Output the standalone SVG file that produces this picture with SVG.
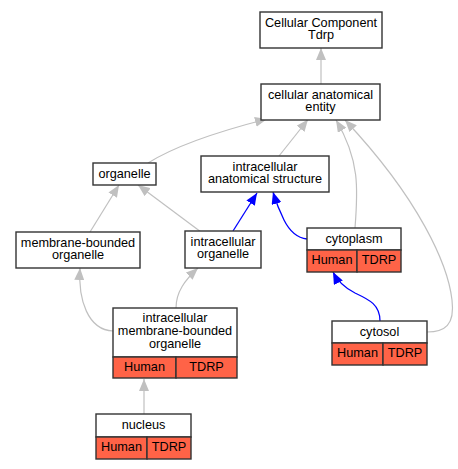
<svg xmlns="http://www.w3.org/2000/svg" width="458" height="469" viewBox="0 0 458 469">
<style>
.box{fill:#fff;stroke:#333;stroke-width:1.4}
.red{fill:#ff6347;stroke:#333;stroke-width:1.4}
text{font-family:"Liberation Sans",Arial,sans-serif;font-size:12.7px;fill:#000;text-anchor:middle}
.g{fill:none;stroke:#c0c0c0;stroke-width:1.2;marker-end:url(#ag)}
.b{fill:none;stroke:#0000ff;stroke-width:1.3;marker-end:url(#ab)}
</style>
<defs>
<marker id="ag" markerUnits="userSpaceOnUse" markerWidth="12" markerHeight="10" viewBox="0 0 12 10" refX="12" refY="5" orient="auto"><path d="M0,0 L12,5 L0,10 Z" fill="#c0c0c0"/></marker>
<marker id="ab" markerUnits="userSpaceOnUse" markerWidth="12" markerHeight="10" viewBox="0 0 12 10" refX="12" refY="5" orient="auto"><path d="M0,0 L12,5 L0,10 Z" fill="#0000ff"/></marker>
</defs>
<rect width="458" height="469" fill="#fff"/>
<g id="connectors">
<path class="g" d="M321,84 L321,48"/>
<path class="g" d="M148,163 C175,146 220,131 267,119"/>
<path class="g" d="M279,156 L308,119.5"/>
<path class="g" d="M355,228 C358,190 360,160 336,120"/>
<path class="g" d="M427,332 C445,332 455,325 452,300 C448,265 420,200 345,120"/>
<path class="g" d="M90,232 L119,185"/>
<path class="g" d="M201,232 L138,185"/>
<path class="b" d="M233,231 L257,193"/>
<path class="b" d="M307,239 C298,238 290,232 284,220 C280,212 276,202 273,192"/>
<path class="g" d="M113,331 C88,330 78,300 80,268"/>
<path class="g" d="M176,308 C176,292 185,280 198,268"/>
<path class="g" d="M144,414 L144,379"/>
<path class="b" d="M380,321 C380,305 370,300 355,293 C345,288 338,282 333,272"/>
</g>
<g id="cc"><rect class="box" x="260" y="12" width="122" height="36"/><text x="321" y="27">Cellular Component</text><text x="321" y="39">Tdrp</text></g>
<g id="cae"><rect class="box" x="261" y="84" width="119" height="36"/><text x="320.5" y="98.5">cellular anatomical</text><text x="320.5" y="110.5">entity</text></g>
<g id="organelle"><rect class="box" x="93" y="163" width="63" height="22"/><text x="124.5" y="178">organelle</text></g>
<g id="ias"><rect class="box" x="201" y="156" width="128" height="36"/><text x="265" y="170.5">intracellular</text><text x="265" y="182.5">anatomical structure</text></g>
<g id="cytoplasm"><rect class="box" x="307" y="228" width="94" height="22"/><text x="354" y="243">cytoplasm</text><rect class="red" x="307" y="250" width="50" height="22"/><text x="332" y="263.5">Human</text><rect class="red" x="357" y="250" width="44" height="22"/><text x="379" y="263.5">TDRP</text></g>
<g id="mbo"><rect class="box" x="16" y="232" width="124" height="36"/><text x="78" y="246.5">membrane-bounded</text><text x="78" y="258.5">organelle</text></g>
<g id="io"><rect class="box" x="185" y="231" width="76" height="37"/><text x="223" y="245.5">intracellular</text><text x="223" y="257.5">organelle</text></g>
<g id="imbo"><rect class="box" x="113" y="308" width="124" height="49"/><text x="175" y="322">intracellular</text><text x="175" y="335">membrane-bounded</text><text x="175" y="348">organelle</text><rect class="red" x="113" y="357" width="63" height="21"/><text x="144.5" y="370.5">Human</text><rect class="red" x="176" y="357" width="61" height="21"/><text x="206.5" y="370.5">TDRP</text></g>
<g id="nucleus"><rect class="box" x="96" y="414" width="95" height="23"/><text x="143.5" y="429">nucleus</text><rect class="red" x="96" y="437" width="51" height="22"/><text x="121.5" y="450.5">Human</text><rect class="red" x="147" y="437" width="44" height="22"/><text x="169" y="450.5">TDRP</text></g>
<g id="cytosol"><rect class="box" x="332" y="321" width="95" height="22"/><text x="379.5" y="336">cytosol</text><rect class="red" x="332" y="343" width="51" height="22"/><text x="357.5" y="356.5">Human</text><rect class="red" x="383" y="343" width="44" height="22"/><text x="405" y="356.5">TDRP</text></g>
</svg>
